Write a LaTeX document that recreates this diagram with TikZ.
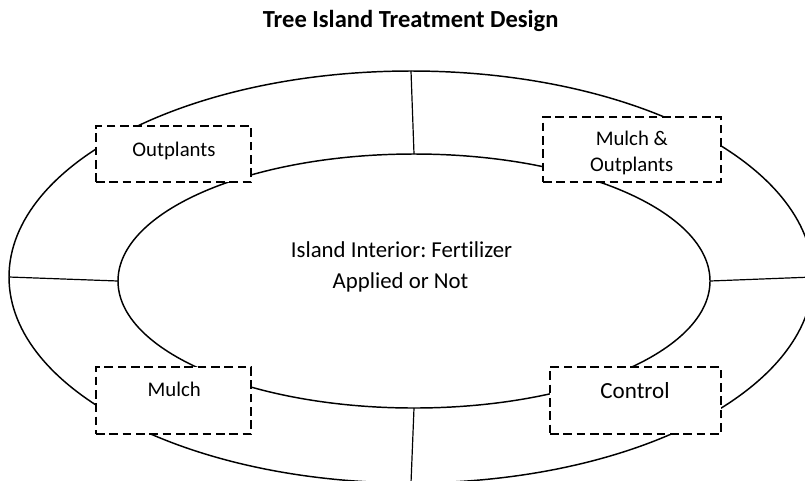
\documentclass[tikz,border=0pt]{standalone}
\usepackage{fontspec}
\setmainfont{Carlito}[Ligatures=NoCommon]
\frenchspacing
\usetikzlibrary{shapes.geometric}
\begin{document}
\begin{tikzpicture}[x=0.75pt,y=-0.75pt,
  ring/.style={draw, ellipse, line width=1.1pt, inner sep=0pt, outer sep=0pt},
  spoke/.style={line width=0.9pt},
  plotbox/.style={draw, fill=white, rectangle, line width=1.4pt, dash pattern=on 6.5pt off 3.5pt, inner sep=0pt},
  lbl/.style={anchor=base, inner sep=0pt, font=\fontsize{15.6}{18}\selectfont},
  big/.style={anchor=base, inner sep=0pt, font=\fontsize{17.1}{20}\selectfont},
  ttl/.style={anchor=base, inner sep=0pt, font=\fontsize{18.4}{22}\selectfont\bfseries}
]
\clip (0,0) rectangle (805,480);
\fill[white] (0,0) rectangle (805,480);

\node[ttl] (title) at (410.7,27.5) {Tree Island Treatment Design};

\node[ring, minimum width=603pt, minimum height=309pt] (outer) at (411,277) {};
\node[ring, minimum width=444pt, minimum height=190.5pt] (inner) at (414,281) {};

\draw[spoke] (inner.north) -- (outer.north);
\draw[spoke] (inner.south) -- (outer.south);
\draw[spoke] (inner.west) -- (outer.west);
\draw[spoke] (inner.east) -- (outer.east);

\node[big] (int1) at (401.5,257.3) {Island Interior: Fertilizer};
\node[big] (int2) at (400.5,288.3) {Applied or Not};

\node[plotbox, minimum width=116.25pt, minimum height=42pt] (bOut) at (173.5,154) {};
\node[plotbox, minimum width=133.5pt, minimum height=48.75pt] (bMO) at (632,149.5) {};
\node[plotbox, minimum width=116.25pt, minimum height=50.25pt] (bMul) at (173.5,400.5) {};
\node[plotbox, minimum width=128.25pt, minimum height=50.25pt] (bCon) at (635.5,400.5) {};

\node[lbl] (tOut) at (174,156) {Outplants};
\node[lbl] (tMO1) at (631.8,145.7) {Mulch \&};
\node[lbl] (tMO2) at (631.7,171.5) {Outplants};
\node[lbl] (tMul) at (174.2,396) {Mulch};
\node[lbl, font=\fontsize{17.3}{20}\selectfont] (tCon) at (635,398.3) {Control};
\end{tikzpicture}
\end{document}
